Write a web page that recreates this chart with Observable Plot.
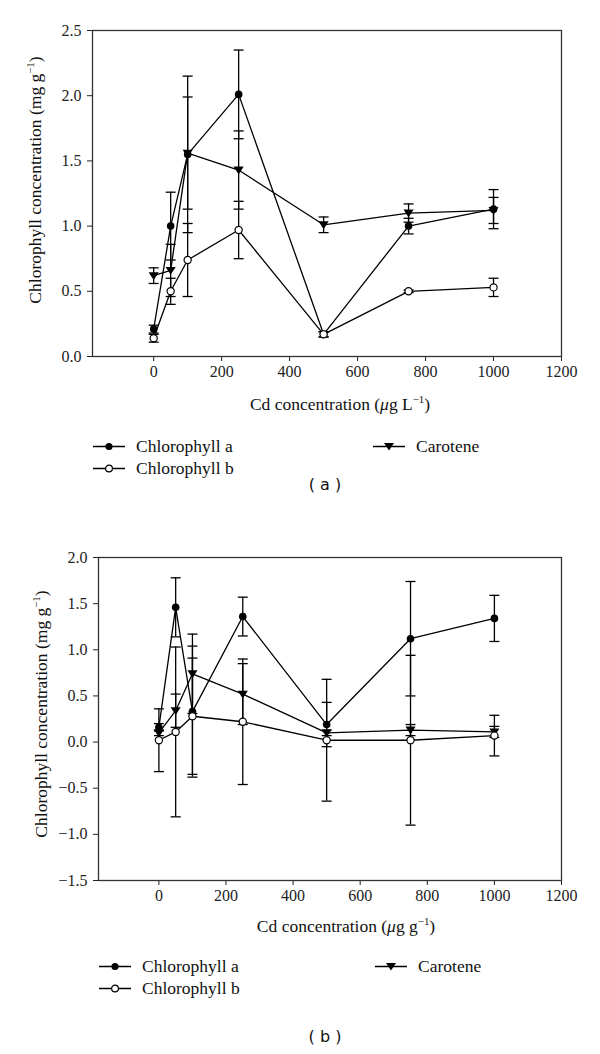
<!DOCTYPE html>
<html><head><meta charset="utf-8">
<script src="https://cdn.jsdelivr.net/npm/d3@7"></script>
<script src="https://cdn.jsdelivr.net/npm/@observablehq/plot@0.6"></script>
<style>
body{margin:0;background:#fff;width:600px;height:1054px;position:relative;overflow:hidden;font-family:"Liberation Serif",serif;color:#111;}
.abs{position:absolute;left:0;}
.abs svg, .abs svg text{font-family:"Liberation Serif",serif !important;font-size:16px !important;}
.ylab{position:absolute;white-space:nowrap;font-size:17.5px;transform:translate(-50%,-50%) rotate(-90deg);}
.xlab{position:absolute;white-space:nowrap;font-size:17.5px;transform:translate(-50%,-50%);}
.leg{position:absolute;font-size:17.5px;white-space:nowrap;display:flex;align-items:center;transform:translateY(-50%);}
.leg svg{margin-right:11px;}
.cap{position:absolute;font-family:"DejaVu Sans",sans-serif;font-size:16px;transform:translate(-50%,-50%);white-space:nowrap;}
sup{font-size:0.62em;vertical-align:0.6em;line-height:0;}
</style></head><body>
<div id="a" class="abs" style="top:0"></div>
<div id="b" class="abs" style="top:520px"></div>

<div class="ylab" style="left:35px;top:180px">Chlorophyll concentration (mg g<sup>−1</sup>)</div>
<div class="xlab" style="left:340px;top:404px">Cd concentration (<i>μ</i>g L<sup>−1</sup>)</div>
<div class="leg" style="left:93px;top:446px"><svg width="32" height="12"><line x1="0" y1="6" x2="32" y2="6" stroke="#000" stroke-width="1.3"/><circle cx="16" cy="6" r="3.6" fill="#000"/></svg>Chlorophyll a</div>
<div class="leg" style="left:93px;top:468px"><svg width="32" height="12"><line x1="0" y1="6" x2="32" y2="6" stroke="#000" stroke-width="1.3"/><circle cx="16" cy="6" r="3.4" fill="#fff" stroke="#000" stroke-width="1.2"/></svg>Chlorophyll b</div>
<div class="leg" style="left:373px;top:446px"><svg width="32" height="12"><line x1="0" y1="6" x2="32" y2="6" stroke="#000" stroke-width="1.3"/><path d="M11,2.5 L21,2.5 L16,10 Z" fill="#000"/></svg>Carotene</div>
<div class="cap" style="left:325px;top:484px">( a )</div>

<div class="ylab" style="left:41px;top:714px">Chlorophyll concentration (mg g<sup>−1</sup>)</div>
<div class="xlab" style="left:346px;top:926px">Cd concentration (<i>μ</i>g g<sup>−1</sup>)</div>
<div class="leg" style="left:99px;top:966px"><svg width="32" height="12"><line x1="0" y1="6" x2="32" y2="6" stroke="#000" stroke-width="1.3"/><circle cx="16" cy="6" r="3.6" fill="#000"/></svg>Chlorophyll a</div>
<div class="leg" style="left:99px;top:988px"><svg width="32" height="12"><line x1="0" y1="6" x2="32" y2="6" stroke="#000" stroke-width="1.3"/><circle cx="16" cy="6" r="3.4" fill="#fff" stroke="#000" stroke-width="1.2"/></svg>Chlorophyll b</div>
<div class="leg" style="left:375px;top:966px"><svg width="32" height="12"><line x1="0" y1="6" x2="32" y2="6" stroke="#000" stroke-width="1.3"/><path d="M11,2.5 L21,2.5 L16,10 Z" fill="#000"/></svg>Carotene</div>
<div class="cap" style="left:325px;top:1036px">( b )</div>

<script>
// ---- data ----
const cdLevels = [0, 50, 100, 250, 500, 750, 1000];
const seriesNames = ["Chlorophyll a", "Chlorophyll b", "Carotene"];
const xTicks = [0, 200, 400, 600, 800, 1000, 1200];

// (a) Cd concentration in µg/L
const chlA_a    = [0.21, 1.00, 1.55, 2.01, 0.17, 1.00, 1.13];
const chlA_aErr = [0.03, 0.26, 0.60, 0.34, 0.02, 0.06, 0.15];
const chlB_a    = [0.14, 0.50, 0.74, 0.97, 0.17, 0.50, 0.53];
const chlB_aErr = [0.03, 0.10, 0.28, 0.22, 0.02, 0.01, 0.07];
const car_a     = [0.62, 0.66, 1.56, 1.43, 1.01, 1.10, 1.12];
const car_aErr  = [0.06, 0.20, 0.43, 0.30, 0.06, 0.07, 0.10];
const yTicksA = [0, 0.5, 1.0, 1.5, 2.0, 2.5];

// (b) Cd concentration in µg/g
const chlA_b    = [0.16, 1.46, 0.33, 1.36, 0.19, 1.12, 1.34];
const chlA_bErr = [0.04, 0.32, 0.71, 0.21, 0.24, 0.62, 0.25];
const chlB_b    = [0.02, 0.11, 0.28, 0.22, 0.02, 0.02, 0.07];
const chlB_bErr = [0.34, 0.92, 0.63, 0.68, 0.66, 0.92, 0.22];
const car_b     = [0.10, 0.34, 0.74, 0.52, 0.10, 0.13, 0.11];
const car_bErr  = [0.03, 0.18, 0.43, 0.33, 0.03, 0.06, 0.06];
const yTicksB = [-1.5, -1.0, -0.5, 0, 0.5, 1.0, 1.5, 2.0];

function rowsFor(vals, errs) {
  const out = [];
  vals.forEach((v, s) => v.forEach((y, i) => out.push({
    series: seriesNames[s], x: cdLevels[i], y, lo: y - errs[s][i], hi: y + errs[s][i]
  })));
  return out;
}

const capSym = {draw(ctx, size){ const r = Math.sqrt(size/Math.PI); ctx.moveTo(-r,0); ctx.lineTo(r,0); }};
const triDown = {draw(ctx, size){ const r = Math.sqrt(size/Math.PI); ctx.moveTo(-r*1.1,-r*0.75); ctx.lineTo(r*1.1,-r*0.75); ctx.lineTo(0,r*0.95); ctx.closePath(); }};

function chart(rows, {yDomain, yTicks, marginLeft, marginTop, frameBottom, height}) {
  return Plot.plot({
    width: 600, height, marginLeft, marginRight: 39, marginTop, marginBottom: height - frameBottom,
    style: {fontFamily: "Liberation Serif, serif", fontSize: "16px", color: "#222", background: "white", overflow: "visible"},
    x: {domain: [-180, 1200], ticks: xTicks, label: null, tickSize: 5, tickPadding: 4, tickFormat: d => String(d)},
    y: {domain: yDomain, ticks: yTicks, label: null, tickSize: 5, tickPadding: 6, tickFormat: d3.format(".1f")},
    marks: [
      Plot.frame({stroke: "#333", strokeWidth: 1.3}),
      Plot.ruleX(rows, {x: "x", y1: "lo", y2: "hi", stroke: "#000", strokeWidth: 1.3}),
      Plot.dot(rows, {x: "x", y: "hi", symbol: capSym, r: 5, stroke: "#000", strokeWidth: 1.3}),
      Plot.dot(rows, {x: "x", y: "lo", symbol: capSym, r: 5, stroke: "#000", strokeWidth: 1.3}),
      Plot.line(rows, {x: "x", y: "y", z: "series", stroke: "#000", strokeWidth: 1.3}),
      Plot.dot(rows.filter(d => d.series === "Carotene"), {x: "x", y: "y", symbol: triDown, r: 4.6, fill: "#000", stroke: "none"}),
      Plot.dot(rows.filter(d => d.series === "Chlorophyll a"), {x: "x", y: "y", r: 3.8, fill: "#000", stroke: "none"}),
      Plot.dot(rows.filter(d => d.series === "Chlorophyll b"), {x: "x", y: "y", r: 3.6, fill: "#fff", stroke: "#000", strokeWidth: 1.2})
    ]
  });
}

const rowsA = rowsFor([chlA_a, chlB_a, car_a], [chlA_aErr, chlB_aErr, car_aErr]);
const rowsB = rowsFor([chlA_b, chlB_b, car_b], [chlA_bErr, chlB_bErr, car_bErr]);

document.getElementById("a").appendChild(chart(rowsA, {yDomain: [0, 2.5], yTicks: yTicksA, marginLeft: 92, marginTop: 30, frameBottom: 356, height: 390}));
document.getElementById("b").appendChild(chart(rowsB, {yDomain: [-1.5, 2.0], yTicks: yTicksB, marginLeft: 98, marginTop: 37, frameBottom: 360, height: 395}));
</script>
</body></html>
